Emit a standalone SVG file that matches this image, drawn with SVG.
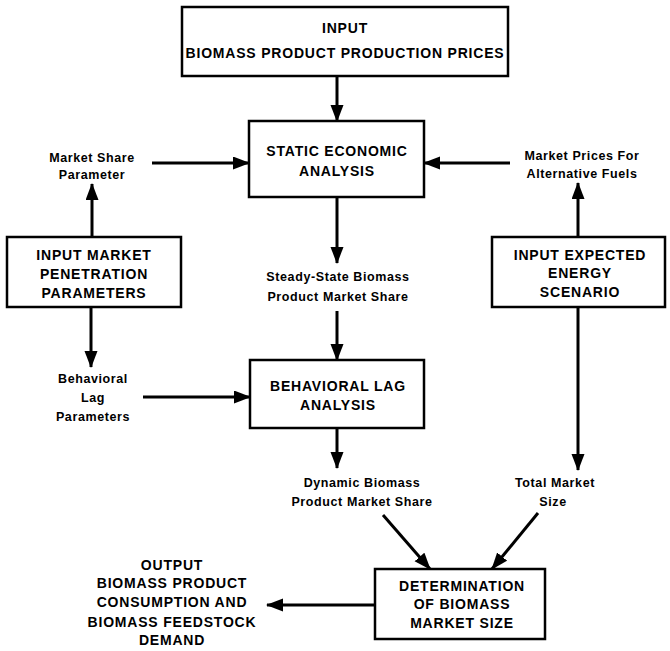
<svg xmlns="http://www.w3.org/2000/svg" width="670" height="651" viewBox="0 0 670 651">
  <style>
    .box { fill: #fff; stroke: #000; stroke-width: 2.5; }
    .t { font-family: "Liberation Sans", Arial, sans-serif; font-weight: bold; fill: #000; text-anchor: middle; }
    .big { font-size: 14px; letter-spacing: 0.8px; }
    .sm { font-size: 12.5px; letter-spacing: 0.6px; }
    .c { stroke: #000; stroke-width: 3; fill: none; marker-end: url(#ah); }
  </style>
  <defs>
    <marker id="ah" markerUnits="userSpaceOnUse" markerWidth="17" markerHeight="14" refX="16" refY="6.5" orient="auto">
      <path d="M0,0 L17,6.5 L0,13 Z" fill="#000"/>
    </marker>
  </defs>

  <rect width="670" height="651" fill="#fff"/>

  <!-- connectors -->
  <g id="connectors">
    <line class="c" x1="337" y1="76" x2="337" y2="121"/>
    <line class="c" x1="152" y1="163" x2="249" y2="163"/>
    <line class="c" x1="510" y1="163" x2="424" y2="163"/>
    <line class="c" x1="92" y1="237" x2="92" y2="184"/>
    <line class="c" x1="578" y1="237" x2="578" y2="183"/>
    <line class="c" x1="337" y1="197" x2="337" y2="263"/>
    <line class="c" x1="91" y1="307" x2="91" y2="367"/>
    <line class="c" x1="337" y1="311" x2="337" y2="360"/>
    <line class="c" x1="143" y1="397" x2="250" y2="397"/>
    <line class="c" x1="578" y1="307" x2="578" y2="470"/>
    <line class="c" x1="337" y1="428" x2="337" y2="468"/>
    <line class="c" x1="383" y1="515" x2="430" y2="569"/>
    <line class="c" x1="538" y1="513" x2="492" y2="569"/>
    <line class="c" x1="375" y1="605" x2="267" y2="605"/>
  </g>

  <!-- nodes -->
  <g id="input-prices">
    <rect class="box" x="182" y="7" width="326" height="69"/>
    <text class="t big" x="345" y="33">INPUT</text>
    <text class="t big" x="345" y="58">BIOMASS PRODUCT PRODUCTION PRICES</text>
  </g>

  <g id="static-analysis">
    <rect class="box" x="249" y="121" width="175" height="76"/>
    <text class="t big" x="337" y="156">STATIC ECONOMIC</text>
    <text class="t big" x="337" y="176">ANALYSIS</text>
  </g>

  <g id="market-share-parameter">
    <text class="t sm" x="92" y="162">Market Share</text>
    <text class="t sm" x="92" y="179">Parameter</text>
  </g>

  <g id="market-prices">
    <text class="t sm" x="582" y="160">Market Prices For</text>
    <text class="t sm" x="582" y="178">Alternative Fuels</text>
  </g>

  <g id="input-penetration">
    <rect class="box" x="7" y="237" width="174" height="70"/>
    <text class="t big" x="94" y="260">INPUT MARKET</text>
    <text class="t big" x="94" y="279">PENETRATION</text>
    <text class="t big" x="94" y="298">PARAMETERS</text>
  </g>

  <g id="input-scenario">
    <rect class="box" x="492" y="237" width="173" height="70"/>
    <text class="t big" x="580" y="260">INPUT EXPECTED</text>
    <text class="t big" x="580" y="278">ENERGY</text>
    <text class="t big" x="580" y="297">SCENARIO</text>
  </g>

  <g id="steady-state-share">
    <text class="t sm" x="338" y="281">Steady-State Biomass</text>
    <text class="t sm" x="338" y="301">Product Market Share</text>
  </g>

  <g id="lag-parameters">
    <text class="t sm" x="93" y="383">Behavioral</text>
    <text class="t sm" x="93" y="402">Lag</text>
    <text class="t sm" x="93" y="421">Parameters</text>
  </g>

  <g id="lag-analysis">
    <rect class="box" x="250" y="360" width="174" height="68"/>
    <text class="t big" x="338" y="391">BEHAVIORAL LAG</text>
    <text class="t big" x="338" y="410">ANALYSIS</text>
  </g>

  <g id="dynamic-share">
    <text class="t sm" x="362" y="487">Dynamic Biomass</text>
    <text class="t sm" x="362" y="506">Product Market Share</text>
  </g>

  <g id="total-market">
    <text class="t sm" x="555" y="487">Total Market</text>
    <text class="t sm" x="553" y="506">Size</text>
  </g>

  <g id="market-size">
    <rect class="box" x="375" y="569" width="170" height="70"/>
    <text class="t big" x="462" y="591">DETERMINATION</text>
    <text class="t big" x="462" y="609">OF BIOMASS</text>
    <text class="t big" x="462" y="628">MARKET SIZE</text>
  </g>

  <g id="output">
    <text class="t big" x="172" y="570">OUTPUT</text>
    <text class="t big" x="172" y="588">BIOMASS PRODUCT</text>
    <text class="t big" x="172" y="607">CONSUMPTION AND</text>
    <text class="t big" x="172" y="627">BIOMASS FEEDSTOCK</text>
    <text class="t big" x="172" y="645">DEMAND</text>
  </g>
</svg>
